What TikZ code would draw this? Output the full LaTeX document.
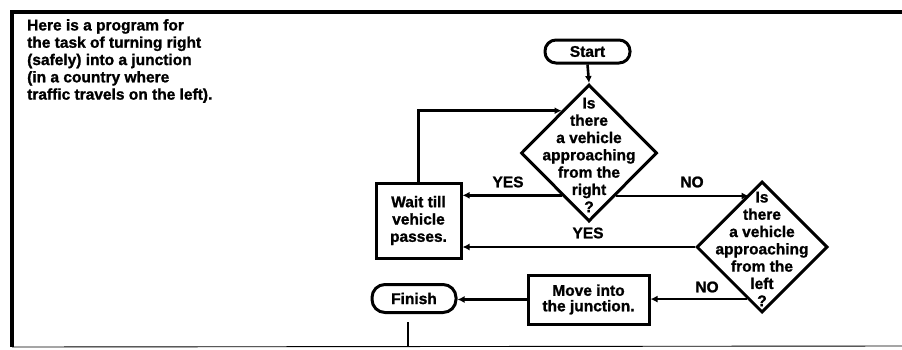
\documentclass[tikz,border=0pt]{standalone}
\usepackage{fontspec}
\setmainfont{Liberation Sans}[BoldFeatures={FakeBold=1.2}]
\usetikzlibrary{shapes.geometric,arrows.meta}
\begin{document}
\begin{tikzpicture}[x=1pt,y=-1pt,
  every node/.style={font=\bfseries\fontsize{15.5}{17.3}\selectfont, inner sep=0pt},
  box/.style={draw, line width=3pt, rectangle},
  term/.style={draw, line width=3pt, rectangle, rounded corners=11pt},
  dia/.style={draw, line width=3pt, diamond, inner sep=0pt},
  conn/.style={line width=2.6pt, -{Latex[length=7pt,width=7pt]}},
  frame/.style={line width=3.4pt}]
\useasboundingbox (0,0) rectangle (902,349);
% frame
\coordinate (tl) at (12,12);
\coordinate (tr) at (902,12);
\coordinate (bl) at (12,347);
\coordinate (br) at (902,346);
\draw[frame] (tr) -- (tl) -- (bl);
\draw[line width=0.9pt] (bl) -- (br);
% intro text
\node[anchor=north west, align=left] (intro) at (27,19)
  {Here is a program for\\the task of turning right\\(safely) into a junction\\(in a country where\\traffic travels on the left).};
% nodes
\node[term, minimum width=85pt, minimum height=23pt] (start) at (587.5,51.5) {Start};
\node[dia, minimum width=136pt, minimum height=137pt] (d1) at (589,153) {};
\node[align=center] (d1t) at (589,155) {Is\\there\\a vehicle\\approaching\\from the\\right\\?};
\node[dia, minimum width=131pt, minimum height=131pt] (d2) at (762,247) {};
\node[align=center] (d2t) at (762,249) {Is\\there\\a vehicle\\approaching\\from the\\left\\?};
\node[box, minimum width=85pt, minimum height=75pt, align=center] (wait) at (418.5,220.5) {Wait till\\vehicle\\passes.};
\node[box, minimum width=121pt, minimum height=49pt, align=center, font=\bfseries\fontsize{15.5}{15.5}\selectfont] (move) at (588.5,299.5) {Move into\\the junction.};
\node[term, minimum width=84pt, minimum height=28pt, rounded corners=13pt] (finish) at (414,298.5) {Finish};
% connectors
\draw[conn] (start.south) -- (d1.north);
\draw[conn] (wait.north) |- (d1.123.7);
\draw[conn] (d1.237.9) -- (d1.237.9 -| wait.east);
\draw[conn] (d1.302.1) -- (d1.302.1 -| d2.104.6);
\draw[conn] (d2.west) -- (d2.west -| wait.east);
\draw[conn] (d2.254.1) -- (d2.254.1 -| move.east);
\draw[conn] (move.west) -- (move.west -| finish.east);
% labels
\node (yes1) at (508,182) {YES};
\node (no1) at (692,182) {NO};
\node (yes2) at (588,233) {YES};
\node (no2) at (707,287) {NO};
% stray tick below Finish
\coordinate (tk1) at (408,322);
\coordinate (tk2) at (408,347);
\draw[line width=1.8pt] (tk1) -- (tk2);
\end{tikzpicture}
\end{document}
